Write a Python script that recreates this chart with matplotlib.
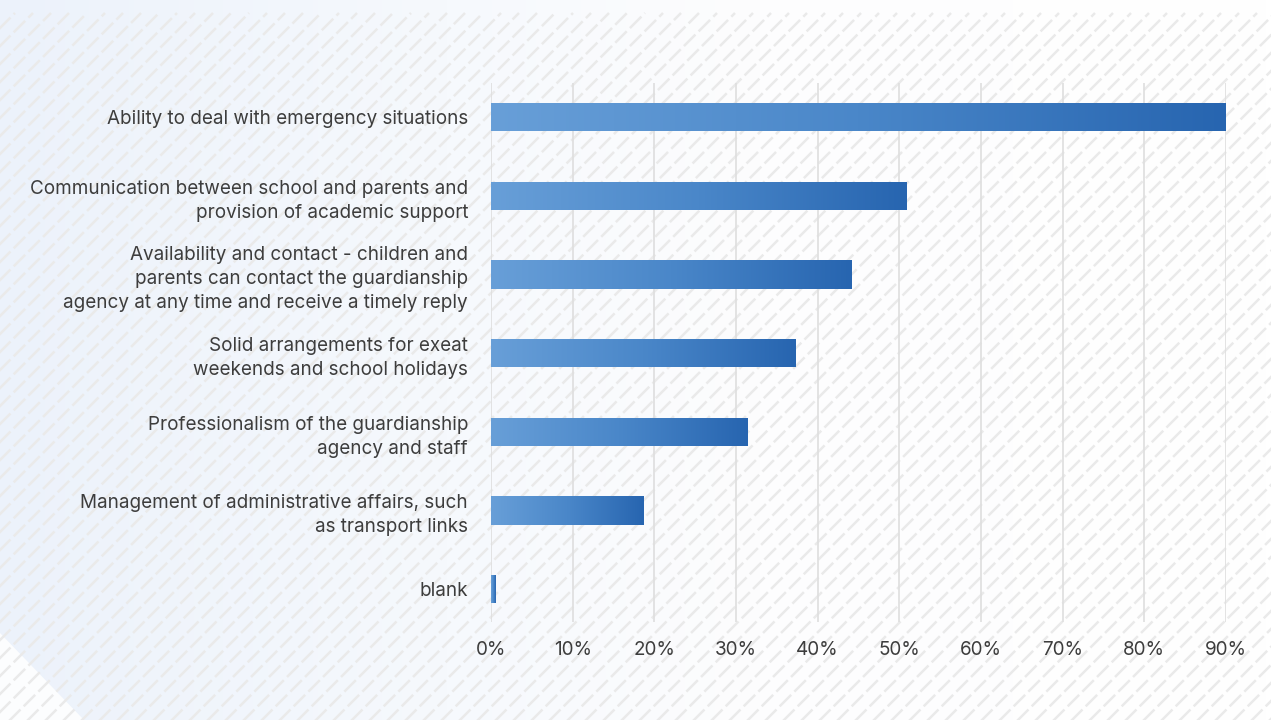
import numpy as np
import matplotlib.pyplot as plt
from matplotlib.collections import LineCollection
from matplotlib.patches import Polygon
from matplotlib.colors import LinearSegmentedColormap

categories = [
    "Ability to deal with emergency situations",
    "Communication between school and parents and\nprovision of academic support",
    "Availability and contact - children and\nparents can contact the guardianship\nagency at any time and receive a timely reply",
    "Solid arrangements for exeat\nweekends and school holidays",
    "Professionalism of the guardianship\nagency and staff",
    "Management of administrative affairs, such\nas transport links",
    "blank",
]
values = [90.0, 50.9, 44.2, 37.3, 31.4, 18.7, 0.6]
tick_values = [0, 10, 20, 30, 40, 50, 60, 70, 80, 90]
tick_labels = [f"{v}%" for v in tick_values]

W, H = 1271, 720
plt.rcParams['font.family'] = ['Inter', 'DejaVu Sans']
fig = plt.figure(figsize=(W / 100, H / 100), dpi=100)

# background: soft blue-to-white gradient
bg = fig.add_axes([0, 0, 1, 1], zorder=-10)
bg.axis('off')
bg_cmap = LinearSegmentedColormap.from_list(
    'bg', [(0, '#ecf2fb'), (0.35, '#f6f9fd'), (0.6, '#fdfdfe'), (1, '#ffffff')])
bg.imshow(np.linspace(0, 1, 256)[None, :], cmap=bg_cmap, aspect='auto',
          extent=[0, W, H, 0], zorder=0)
bg.add_patch(Polygon([[0, 633], [0, H], [84, H]], closed=True,
                     facecolor='#fcfdfe', edgecolor='none', zorder=1))

# diagonal dashed texture
segs = []
step = 18
top = 13
for x0 in range(-H, W + 40, step):
    segs.append([(x0, H + 10), (x0 + (H + 10 - top), top)])
lc = LineCollection(segs, colors='#eaeaea', linewidths=1.8,
                    linestyles=[(0, (6.5, 1.8))], zorder=2)
bg.add_collection(lc)
bg.set_xlim(0, W)
bg.set_ylim(H, 0)

# chart area
left_px, right_px = 491, 1226
ax_bottom_px, ax_top_px = 622, 83
row_px = 78.67
first_px = 117
n = len(categories)
y_top = -(first_px - ax_top_px) / row_px
y_bot = y_top + (ax_bottom_px - ax_top_px) / row_px

ax = fig.add_axes([left_px / W, 1 - ax_bottom_px / H,
                   (right_px - left_px) / W, (ax_bottom_px - ax_top_px) / H])
ax.patch.set_alpha(0)
for s in ax.spines.values():
    s.set_visible(False)
ax.set_xticks(tick_values)
ax.set_xticklabels(tick_labels)
ax.set_yticks(range(n))
ax.set_yticklabels(categories, ha='right', linespacing=1.42)
ax.tick_params(axis='both', length=0, labelsize=13.6, labelcolor='#3d3d3d')
ax.tick_params(axis='x', pad=14)
ax.tick_params(axis='y', pad=16.5)
ax.grid(axis='x', color='#dedede', linewidth=1.2, zorder=0)
ax.set_axisbelow(True)

bar_cmap = LinearSegmentedColormap.from_list('bar', ['#689fd8', '#4a87c9', '#2765b0'])
grad = np.linspace(0, 1, 256)[None, :]
bh = 0.36
for i, v in enumerate(values):
    rect = ax.barh(i, v, height=bh, color='none', edgecolor='none', zorder=3)[0]
    im = ax.imshow(grad, cmap=bar_cmap, aspect='auto',
                   extent=[0, v, i + bh / 2, i - bh / 2], zorder=3,
                   vmin=0, vmax=1)
    im.set_clip_path(rect)
ax.set_xlim(0, 90)
ax.set_ylim(y_bot, y_top)

fig.savefig('out.png', dpi=100)
